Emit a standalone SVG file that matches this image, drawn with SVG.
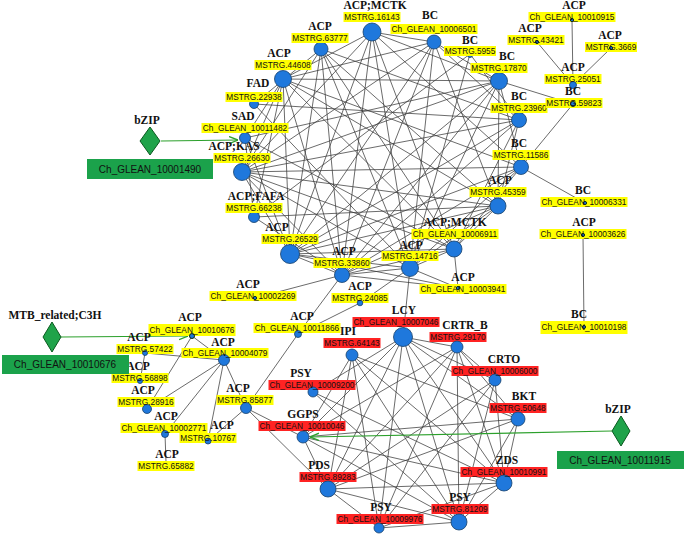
<svg xmlns="http://www.w3.org/2000/svg" width="685" height="536" viewBox="0 0 685 536">
<style>
.e line{stroke:#3a3a3a;stroke-width:0.75}
.n{fill:#1f78dc;stroke:#17406b;stroke-width:0.8}
.d{fill:#1f78dc;stroke:#0d2a18;stroke-width:1}
.c{font-family:"Liberation Serif","Times New Roman",serif;font-weight:bold;font-size:11.5px;text-anchor:middle;fill:#111}
.l{font-family:"Liberation Sans",Arial,sans-serif;font-size:8.3px;text-anchor:middle;fill:#111}
.y{fill:#ffff00}
.r{fill:#ff2323}
.g{stroke:#2ca02c;stroke-width:1.2;fill:none}
.tf{fill:#1fa34a;stroke:#0b5a20;stroke-width:1}
.bx{fill:#1ba24b}
.bt{font-family:"Liberation Sans",Arial,sans-serif;font-size:10px;text-anchor:middle;fill:#111}
</style>
<defs>
<marker id="ah" viewBox="0 0 10 10" refX="10" refY="5" markerWidth="9" markerHeight="9" markerUnits="userSpaceOnUse" orient="auto"><path d="M0,1 L10,5 L0,9" fill="none" stroke="#2ca02c" stroke-width="1.5"/></marker>
</defs>
<rect width="685" height="536" fill="#fff"/>
<g id="connectors" class="e">
<line x1="372" y1="32" x2="434" y2="42"/><line x1="372" y1="32" x2="499" y2="81"/><line x1="372" y1="32" x2="521" y2="167"/><line x1="372" y1="32" x2="454" y2="249"/><line x1="372" y1="32" x2="410" y2="268"/><line x1="372" y1="32" x2="342" y2="275"/><line x1="372" y1="32" x2="290" y2="254"/><line x1="372" y1="32" x2="242" y2="172"/><line x1="372" y1="32" x2="283" y2="79"/>
<line x1="434" y1="42" x2="499" y2="81"/><line x1="434" y1="42" x2="519" y2="120"/><line x1="434" y1="42" x2="498" y2="206"/><line x1="434" y1="42" x2="410" y2="268"/><line x1="434" y1="42" x2="342" y2="275"/><line x1="434" y1="42" x2="290" y2="254"/><line x1="434" y1="42" x2="242" y2="172"/><line x1="434" y1="42" x2="283" y2="79"/>
<line x1="470" y1="54" x2="519" y2="120"/><line x1="470" y1="54" x2="410" y2="268"/><line x1="470" y1="54" x2="254" y2="217"/>
<line x1="499" y1="81" x2="521" y2="167"/><line x1="499" y1="81" x2="498" y2="206"/><line x1="499" y1="81" x2="410" y2="268"/><line x1="499" y1="81" x2="342" y2="275"/><line x1="499" y1="81" x2="290" y2="254"/><line x1="499" y1="81" x2="242" y2="172"/><line x1="499" y1="81" x2="245" y2="138"/><line x1="499" y1="81" x2="283" y2="79"/>
<line x1="519" y1="120" x2="498" y2="206"/><line x1="519" y1="120" x2="454" y2="249"/><line x1="519" y1="120" x2="342" y2="275"/><line x1="519" y1="120" x2="290" y2="254"/><line x1="519" y1="120" x2="242" y2="172"/><line x1="519" y1="120" x2="254" y2="104"/><line x1="519" y1="120" x2="321" y2="49"/>
<line x1="521" y1="167" x2="454" y2="249"/><line x1="521" y1="167" x2="410" y2="268"/><line x1="521" y1="167" x2="342" y2="275"/><line x1="521" y1="167" x2="290" y2="254"/><line x1="521" y1="167" x2="242" y2="172"/><line x1="521" y1="167" x2="283" y2="79"/>
<line x1="498" y1="206" x2="454" y2="249"/><line x1="498" y1="206" x2="410" y2="268"/><line x1="498" y1="206" x2="342" y2="275"/><line x1="498" y1="206" x2="290" y2="254"/><line x1="498" y1="206" x2="254" y2="217"/><line x1="498" y1="206" x2="242" y2="172"/><line x1="498" y1="206" x2="283" y2="79"/><line x1="498" y1="206" x2="321" y2="49"/>
<line x1="454" y1="249" x2="410" y2="268"/><line x1="454" y1="249" x2="342" y2="275"/><line x1="454" y1="249" x2="290" y2="254"/><line x1="454" y1="249" x2="242" y2="172"/><line x1="454" y1="249" x2="245" y2="138"/><line x1="454" y1="249" x2="283" y2="79"/><line x1="454" y1="249" x2="321" y2="49"/>
<line x1="410" y1="268" x2="342" y2="275"/><line x1="410" y1="268" x2="290" y2="254"/><line x1="410" y1="268" x2="242" y2="172"/><line x1="410" y1="268" x2="254" y2="104"/><line x1="410" y1="268" x2="321" y2="49"/>
<line x1="342" y1="275" x2="290" y2="254"/><line x1="342" y1="275" x2="254" y2="217"/><line x1="342" y1="275" x2="242" y2="172"/><line x1="342" y1="275" x2="283" y2="79"/><line x1="342" y1="275" x2="321" y2="49"/>
<line x1="290" y1="254" x2="242" y2="172"/><line x1="290" y1="254" x2="245" y2="138"/><line x1="290" y1="254" x2="283" y2="79"/><line x1="290" y1="254" x2="321" y2="49"/>
<line x1="254" y1="217" x2="245" y2="138"/><line x1="254" y1="217" x2="283" y2="79"/><line x1="242" y1="172" x2="283" y2="79"/><line x1="242" y1="172" x2="321" y2="49"/><line x1="245" y1="138" x2="283" y2="79"/><line x1="254" y1="104" x2="321" y2="49"/>
<line x1="499" y1="81" x2="573" y2="104"/><line x1="573" y1="104" x2="521" y2="167"/><line x1="521" y1="167" x2="585" y2="203"/>
<line x1="572" y1="20" x2="573" y2="85"/><line x1="537" y1="42" x2="573" y2="85"/><line x1="611" y1="48" x2="573" y2="85"/>
<line x1="583" y1="235" x2="584" y2="327"/>
<line x1="290" y1="254" x2="458" y2="288"/><line x1="342" y1="275" x2="458" y2="288"/><line x1="410" y1="268" x2="458" y2="288"/><line x1="454" y1="249" x2="458" y2="288"/>
<line x1="342" y1="275" x2="255" y2="298"/><line x1="342" y1="275" x2="298" y2="334"/><line x1="410" y1="268" x2="360" y2="303"/><line x1="360" y1="303" x2="298" y2="334"/><line x1="410" y1="268" x2="403" y2="337"/>
<line x1="298" y1="334" x2="246" y2="408"/><line x1="246" y1="408" x2="303" y2="437"/><line x1="246" y1="408" x2="328" y2="489"/>
<line x1="192" y1="336" x2="224" y2="360"/><line x1="145" y1="353" x2="224" y2="360"/><line x1="145" y1="353" x2="140" y2="381"/><line x1="192" y1="336" x2="147" y2="409"/><line x1="224" y1="360" x2="147" y2="409"/><line x1="224" y1="360" x2="165" y2="434"/><line x1="224" y1="360" x2="208" y2="441"/><line x1="224" y1="360" x2="246" y2="408"/><line x1="208" y1="441" x2="246" y2="408"/><line x1="165" y1="434" x2="166" y2="462"/>
<line x1="403" y1="337" x2="457" y2="347"/><line x1="403" y1="337" x2="495" y2="380"/><line x1="403" y1="337" x2="518" y2="419"/><line x1="403" y1="337" x2="504" y2="483"/><line x1="403" y1="337" x2="459" y2="522"/><line x1="403" y1="337" x2="379" y2="528"/><line x1="403" y1="337" x2="328" y2="489"/><line x1="403" y1="337" x2="303" y2="437"/><line x1="403" y1="337" x2="313" y2="392"/>
<line x1="352" y1="355" x2="303" y2="437"/><line x1="352" y1="355" x2="328" y2="489"/><line x1="352" y1="355" x2="379" y2="528"/><line x1="352" y1="355" x2="459" y2="522"/><line x1="352" y1="355" x2="504" y2="483"/><line x1="352" y1="355" x2="518" y2="419"/>
<line x1="313" y1="392" x2="504" y2="483"/><line x1="313" y1="392" x2="459" y2="522"/>
<line x1="303" y1="437" x2="328" y2="489"/><line x1="303" y1="437" x2="504" y2="483"/><line x1="303" y1="437" x2="518" y2="419"/><line x1="303" y1="437" x2="459" y2="522"/><line x1="303" y1="437" x2="457" y2="347"/>
<line x1="328" y1="489" x2="504" y2="483"/><line x1="328" y1="489" x2="518" y2="419"/><line x1="328" y1="489" x2="459" y2="522"/><line x1="328" y1="489" x2="379" y2="528"/><line x1="328" y1="489" x2="495" y2="380"/><line x1="328" y1="489" x2="457" y2="347"/>
<line x1="379" y1="528" x2="459" y2="522"/><line x1="379" y1="528" x2="504" y2="483"/><line x1="379" y1="528" x2="495" y2="380"/><line x1="379" y1="528" x2="457" y2="347"/>
<line x1="459" y1="522" x2="504" y2="483"/><line x1="459" y1="522" x2="518" y2="419"/><line x1="459" y1="522" x2="457" y2="347"/><line x1="459" y1="522" x2="495" y2="380"/>
<line x1="504" y1="483" x2="518" y2="419"/><line x1="504" y1="483" x2="495" y2="380"/><line x1="504" y1="483" x2="457" y2="347"/><line x1="518" y1="419" x2="457" y2="347"/><line x1="495" y1="380" x2="457" y2="347"/>
</g>
<g id="tf-arrows">
<line class="g" x1="161" y1="141" x2="238" y2="140" marker-end="url(#ah)"/>
<line class="g" x1="61" y1="337" x2="188" y2="336" marker-end="url(#ah)"/>
<line class="g" x1="612" y1="431" x2="310" y2="437" marker-end="url(#ah)"/>
</g>
<g id="n-MSTRG16143"><circle class="n" cx="372" cy="32" r="9"/><text class="c" x="375" y="9">ACP;MCTK</text><rect class="y" x="343.5" y="12" width="57" height="10"/><text class="l" x="372" y="20">MSTRG.16143</text></g>
<g id="n-10006501"><circle class="n" cx="434" cy="42" r="7"/><text class="c" x="430" y="19">BC</text><rect class="y" x="390.5" y="24" width="87" height="10"/><text class="l" x="434" y="32">Ch_GLEAN_10006501</text></g>
<g id="n-MSTRG5955"><circle class="n" cx="470" cy="55" r="2.5"/><text class="c" x="470" y="44">BC</text><rect class="y" x="444" y="46" width="52" height="10"/><text class="l" x="470" y="54">MSTRG.5955</text></g>
<g id="n-MSTRG17870"><circle class="n" cx="499" cy="81" r="8.5"/><text class="c" x="507" y="60">BC</text><rect class="y" x="470.5" y="63" width="57" height="10"/><text class="l" x="499" y="71">MSTRG.17870</text></g>
<g id="n-MSTRG23960"><circle class="n" cx="519" cy="120" r="7.5"/><text class="c" x="519" y="100">BC</text><rect class="y" x="490.5" y="103" width="57" height="10"/><text class="l" x="519" y="111">MSTRG.23960</text></g>
<g id="n-MSTRG11586"><circle class="n" cx="521" cy="167" r="7.5"/><text class="c" x="519" y="147">BC</text><rect class="y" x="492.5" y="150" width="57" height="10"/><text class="l" x="521" y="158">MSTRG.11586</text></g>
<g id="n-MSTRG45359"><circle class="n" cx="498" cy="206" r="8"/><text class="c" x="500" y="184">ACP</text><rect class="y" x="469.5" y="187" width="57" height="10"/><text class="l" x="498" y="195">MSTRG.45359</text></g>
<g id="n-10006911"><circle class="n" cx="454" cy="249" r="8"/><text class="c" x="455" y="226">ACP;MCTK</text><rect class="y" x="411.5" y="229" width="87" height="10"/><text class="l" x="455" y="237">Ch_GLEAN_10006911</text></g>
<g id="n-MSTRG14716"><circle class="n" cx="410" cy="268" r="8.5"/><text class="c" x="411" y="249">ACP</text><rect class="y" x="381.5" y="251" width="57" height="10"/><text class="l" x="410" y="259">MSTRG.14716</text></g>
<g id="n-MSTRG33860"><circle class="n" cx="342" cy="275" r="7.5"/><text class="c" x="344" y="255">ACP</text><rect class="y" x="313.5" y="258" width="57" height="10"/><text class="l" x="342" y="266">MSTRG.33860</text></g>
<g id="n-MSTRG26529"><circle class="n" cx="290" cy="254" r="9.5"/><text class="c" x="277" y="231">ACP</text><rect class="y" x="261.5" y="234" width="57" height="10"/><text class="l" x="290" y="242">MSTRG.26529</text></g>
<g id="n-MSTRG66238"><circle class="n" cx="254" cy="217" r="5.5"/><text class="c" x="256" y="200">ACP;FAFA</text><rect class="y" x="225.5" y="203" width="57" height="10"/><text class="l" x="254" y="211">MSTRG.66238</text></g>
<g id="n-MSTRG26630"><circle class="n" cx="242" cy="172" r="8.5"/><text class="c" x="234" y="150">ACP;KAS</text><rect class="y" x="213.5" y="153" width="57" height="10"/><text class="l" x="242" y="161">MSTRG.26630</text></g>
<g id="n-10011482"><circle class="n" cx="245" cy="138" r="5.5"/><text class="c" x="243" y="120">SAD</text><rect class="y" x="201.5" y="123" width="87" height="10"/><text class="l" x="245" y="131">Ch_GLEAN_10011482</text></g>
<g id="n-MSTRG22938"><circle class="n" cx="254" cy="104" r="4.5"/><text class="c" x="258" y="87">FAD</text><rect class="y" x="225.5" y="92" width="57" height="10"/><text class="l" x="254" y="100">MSTRG.22938</text></g>
<g id="n-MSTRG44608"><circle class="n" cx="283" cy="79" r="8.5"/><text class="c" x="279" y="57">ACP</text><rect class="y" x="254.5" y="60" width="57" height="10"/><text class="l" x="283" y="68">MSTRG.44608</text></g>
<g id="n-MSTRG63777"><circle class="n" cx="321" cy="49" r="7"/><text class="c" x="320" y="30">ACP</text><rect class="y" x="291.5" y="33" width="57" height="10"/><text class="l" x="320" y="41">MSTRG.63777</text></g>
<g id="n-10010915"><rect class="y" x="528.5" y="12" width="87" height="10"/><circle class="d" cx="572" cy="20" r="1.6"/><text class="c" x="574" y="9">ACP</text><text class="l" x="572" y="20">Ch_GLEAN_10010915</text></g>
<g id="n-MSTRG43421"><rect class="y" x="507.5" y="35" width="57" height="10"/><circle class="d" cx="537" cy="42" r="1.6"/><text class="c" x="530" y="32">ACP</text><text class="l" x="536" y="43">MSTRG.43421</text></g>
<g id="n-MSTRG3669"><rect class="y" x="585" y="42" width="52" height="10"/><circle class="d" cx="611" cy="48" r="1.6"/><text class="c" x="610" y="39">ACP</text><text class="l" x="611" y="50">MSTRG.3669</text></g>
<g id="n-MSTRG25051"><rect class="y" x="544.5" y="74" width="57" height="10"/><circle class="n" cx="573" cy="85" r="3.5"/><text class="c" x="573" y="71">ACP</text><text class="l" x="573" y="82">MSTRG.25051</text></g>
<g id="n-MSTRG59823"><rect class="y" x="545.5" y="98" width="57" height="10"/><circle class="d" cx="573" cy="104" r="2.5" fill="#0d3a20"/><text class="c" x="573" y="95">BC</text><text class="l" x="574" y="106">MSTRG.59823</text></g>
<g id="n-10006331"><rect class="y" x="540.5" y="197" width="87" height="10"/><circle class="d" cx="585" cy="203" r="1.6"/><text class="c" x="583" y="194">BC</text><text class="l" x="584" y="205">Ch_GLEAN_10006331</text></g>
<g id="n-10003626"><rect class="y" x="539.5" y="229" width="87" height="10"/><circle class="d" cx="583" cy="235" r="1.6"/><text class="c" x="584" y="226">ACP</text><text class="l" x="583" y="237">Ch_GLEAN_10003626</text></g>
<g id="n-10010198"><rect class="y" x="540.5" y="321" width="87" height="13"/><circle class="d" cx="584" cy="327" r="1.6"/><text class="c" x="579" y="318">BC</text><text class="l" x="584" y="330">Ch_GLEAN_10010198</text></g>
<g id="n-10002269"><rect class="y" x="209.5" y="291" width="87" height="10"/><circle class="d" cx="255" cy="298" r="1.6"/><text class="c" x="248" y="288">ACP</text><text class="l" x="253" y="299">Ch_GLEAN_10002269</text></g>
<g id="n-MSTRG24085"><rect class="y" x="331.5" y="293" width="57" height="10"/><circle class="n" cx="360" cy="303" r="2.8"/><text class="c" x="360" y="290">ACP</text><text class="l" x="360" y="301">MSTRG.24085</text></g>
<g id="n-10003941"><rect class="y" x="419.5" y="284" width="87" height="10"/><circle class="d" cx="458" cy="288" r="1.6"/><text class="c" x="463" y="281">ACP</text><text class="l" x="463" y="292">Ch_GLEAN_10003941</text></g>
<g id="n-10011866"><rect class="y" x="253.5" y="323" width="87" height="10"/><circle class="n" cx="298" cy="334" r="3.5"/><text class="c" x="302" y="320">ACP</text><text class="l" x="297" y="331">Ch_GLEAN_10011866</text></g>
<g id="n-10010676"><rect class="y" x="148.5" y="324" width="87" height="12"/><circle class="d" cx="192" cy="336" r="2.5"/><text class="c" x="190" y="321">ACP</text><text class="l" x="192" y="333">Ch_GLEAN_10010676</text></g>
<g id="n-10004079"><rect class="y" x="181.5" y="348" width="87" height="10"/><circle class="n" cx="224" cy="360" r="5.5"/><text class="c" x="223" y="346">ACP</text><text class="l" x="225" y="356">Ch_GLEAN_10004079</text></g>
<g id="n-MSTRG57422"><rect class="y" x="116.5" y="344" width="57" height="10"/><circle class="n" cx="145" cy="353" r="2.5"/><text class="c" x="139" y="341">ACP</text><text class="l" x="145" y="352">MSTRG.57422</text></g>
<g id="n-MSTRG56898"><rect class="y" x="111.5" y="373" width="57" height="10"/><circle class="n" cx="140" cy="381" r="2.5"/><text class="c" x="138" y="370">ACP</text><text class="l" x="140" y="381">MSTRG.56898</text></g>
<g id="n-MSTRG28916"><rect class="y" x="117.5" y="397" width="57" height="10"/><circle class="n" cx="147" cy="409" r="4.5"/><text class="c" x="143" y="394">ACP</text><text class="l" x="146" y="405">MSTRG.28916</text></g>
<g id="n-10002771"><rect class="y" x="120.5" y="423" width="87" height="10"/><circle class="n" cx="165" cy="434" r="3.5"/><text class="c" x="166" y="420">ACP</text><text class="l" x="164" y="431">Ch_GLEAN_10002771</text></g>
<g id="n-MSTRG10767"><rect class="y" x="179.5" y="433" width="57" height="10"/><circle class="n" cx="208" cy="441" r="3"/><text class="c" x="222" y="429">ACP</text><text class="l" x="208" y="441">MSTRG.10767</text></g>
<g id="n-MSTRG65882"><rect class="y" x="137.5" y="461" width="57" height="10"/><text class="c" x="167" y="458">ACP</text><text class="l" x="166" y="469">MSTRG.65882</text></g>
<g id="n-MSTRG85877"><rect class="y" x="216.5" y="395" width="57" height="10"/><circle class="n" cx="246" cy="408" r="5.5"/><text class="c" x="238" y="392">ACP</text><text class="l" x="245" y="403">MSTRG.85877</text></g>
<g id="n-10007046"><rect class="r" x="352.5" y="317" width="87" height="10"/><circle class="n" cx="403" cy="337" r="9.5"/><text class="c" x="404" y="314">LCY</text><text class="l" x="396" y="325">Ch_GLEAN_10007046</text></g>
<g id="n-MSTRG64143"><rect class="r" x="323.5" y="338" width="57" height="10"/><circle class="n" cx="352" cy="355" r="6"/><text class="c" x="348" y="335">IPI</text><text class="l" x="352" y="346">MSTRG.64143</text></g>
<g id="n-10009200"><rect class="r" x="268.5" y="380" width="87" height="10"/><circle class="n" cx="313" cy="392" r="5"/><text class="c" x="301" y="377">PSY</text><text class="l" x="312" y="388">Ch_GLEAN_10009200</text></g>
<g id="n-10010046"><rect class="r" x="258.5" y="421" width="87" height="10"/><circle class="n" cx="303" cy="437" r="6"/><text class="c" x="303" y="418">GGPS</text><text class="l" x="302" y="429">Ch_GLEAN_10010046</text></g>
<g id="n-MSTRG89283"><rect class="r" x="299.5" y="472" width="57" height="10"/><circle class="n" cx="328" cy="489" r="8"/><text class="c" x="319" y="469">PDS</text><text class="l" x="328" y="480">MSTRG.89283</text></g>
<g id="n-10009976"><rect class="r" x="336.5" y="514" width="87" height="10"/><circle class="n" cx="379" cy="528" r="5"/><text class="c" x="381" y="511">PSY</text><text class="l" x="380" y="522">Ch_GLEAN_10009976</text></g>
<g id="n-MSTRG81209"><rect class="r" x="431.5" y="504" width="57" height="10"/><circle class="n" cx="459" cy="522" r="8"/><text class="c" x="460" y="501">PSY</text><text class="l" x="460" y="512">MSTRG.81209</text></g>
<g id="n-10010991"><rect class="r" x="460.5" y="467" width="87" height="10"/><circle class="n" cx="504" cy="483" r="8"/><text class="c" x="507" y="464">ZDS</text><text class="l" x="504" y="475">Ch_GLEAN_10010991</text></g>
<g id="n-MSTRG50648"><rect class="r" x="489.5" y="403" width="57" height="10"/><circle class="n" cx="518" cy="419" r="7"/><text class="c" x="524" y="400">BKT</text><text class="l" x="518" y="411">MSTRG.50648</text></g>
<g id="n-10006000"><rect class="r" x="451.5" y="366" width="87" height="10"/><circle class="n" cx="495" cy="380" r="6"/><text class="c" x="504" y="363">CRTO</text><text class="l" x="495" y="374">Ch_GLEAN_10006000</text></g>
<g id="n-MSTRG29170"><rect class="r" x="429.5" y="332" width="57" height="10"/><circle class="n" cx="457" cy="347" r="6"/><text class="c" x="465" y="329">CRTR_B</text><text class="l" x="458" y="340">MSTRG.29170</text></g>
<g id="tf-bZIP-10001490"><text class="c" x="147" y="124">bZIP</text><path class="tf" d="M150,127 L160,141 L150,155 L140,141 Z"/><rect class="bx" x="87" y="159" width="126" height="20"/><text class="bt" x="150" y="173">Ch_GLEAN_10001490</text></g>
<g id="tf-MTB-10010676"><text class="c" x="55" y="319">MTB_related;C3H</text><path class="tf" d="M52,322 L61,337 L52,352 L43,337 Z"/><rect class="bx" x="2" y="355" width="127" height="19"/><text class="bt" x="65" y="368">Ch_GLEAN_10010676</text></g>
<g id="tf-bZIP-10011915"><text class="c" x="618" y="413">bZIP</text><path class="tf" d="M621,416 L630,431 L621,446 L612,431 Z"/><rect class="bx" x="557" y="451" width="127" height="18"/><text class="bt" x="620" y="464">Ch_GLEAN_10011915</text></g>
</svg>
